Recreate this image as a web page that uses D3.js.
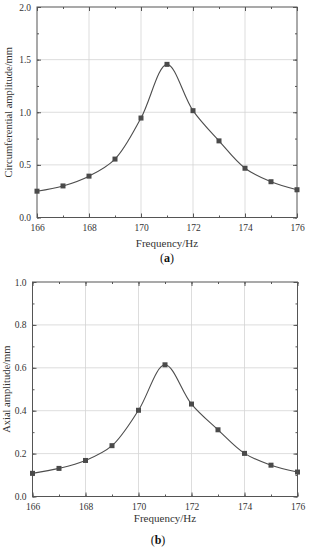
<!DOCTYPE html>
<html><head><meta charset="utf-8">
<script src="https://cdn.jsdelivr.net/npm/d3@7"></script>
<style>html,body{margin:0;padding:0;background:#fff;}svg{display:block;}</style>
</head><body>
<script>
const freq = [166,167,168,169,170,171,172,173,174,175,176];
const circAmp = [0.25,0.30,0.393,0.555,0.945,1.455,1.015,0.728,0.468,0.34,0.264];
const axialAmp = [0.108,0.131,0.168,0.237,0.402,0.614,0.431,0.311,0.201,0.146,0.114];
const xTicks = [166,168,170,172,174,176];
const yTicksA = [0.0,0.5,1.0,1.5,2.0];
const yTicksB = [0.0,0.2,0.4,0.6,0.8,1.0];

const svg = d3.select("body").append("svg").attr("width",309).attr("height",550);
const font = "'Liberation Serif','Times New Roman',serif";

function panel(o){
  const x = d3.scaleLinear().domain([166,176]).range([o.left,o.right]);
  const y = d3.scaleLinear().domain(o.ydom).range([o.bottom,o.top]);
  const g = svg.append("g");
  // grid
  g.selectAll(".gx").data(xTicks.slice(1,-1)).enter().append("line")
    .attr("x1",d=>x(d)).attr("x2",d=>x(d)).attr("y1",o.top).attr("y2",o.bottom)
    .attr("stroke","#d4d4d4").attr("stroke-width",0.8);
  g.selectAll(".gy").data(o.yticks.slice(1,-1)).enter().append("line")
    .attr("y1",d=>y(d)).attr("y2",d=>y(d)).attr("x1",o.left).attr("x2",o.right)
    .attr("stroke","#d4d4d4").attr("stroke-width",0.8);
  // axes (inward ticks)
  const minorX = d3.range(166,177,1);
  const minorY = o.minor;
  const ax = (sel, axis) => { sel.call(axis); sel.select(".domain").remove(); sel.selectAll("line").attr("stroke","#555"); sel.selectAll("text").attr("font-family",font).attr("font-size",9.5).attr("fill","#333"); };
  g.append("g").attr("transform",`translate(0,${o.bottom})`).call(s=>ax(s,d3.axisBottom(x).tickValues(minorX).tickSize(-2).tickFormat("")));
  g.append("g").attr("transform",`translate(0,${o.bottom})`).call(s=>ax(s,d3.axisBottom(x).tickValues(xTicks).tickSize(-4).tickPadding(7).tickFormat(d3.format("d"))));
  g.append("g").attr("transform",`translate(0,${o.top})`).call(s=>ax(s,d3.axisTop(x).tickValues(minorX).tickSize(-2).tickFormat("")));
  g.append("g").attr("transform",`translate(0,${o.top})`).call(s=>ax(s,d3.axisTop(x).tickValues(xTicks).tickSize(-4).tickFormat("")));
  g.append("g").attr("transform",`translate(${o.left},0)`).call(s=>ax(s,d3.axisLeft(y).tickValues(minorY).tickSize(-2).tickFormat("")));
  g.append("g").attr("transform",`translate(${o.left},0)`).call(s=>ax(s,d3.axisLeft(y).tickValues(o.yticks).tickSize(-4).tickPadding(6).tickFormat(d3.format(".1f"))));
  g.append("g").attr("transform",`translate(${o.right},0)`).call(s=>ax(s,d3.axisRight(y).tickValues(minorY).tickSize(-2).tickFormat("")));
  g.append("g").attr("transform",`translate(${o.right},0)`).call(s=>ax(s,d3.axisRight(y).tickValues(o.yticks).tickSize(-4).tickFormat("")));
  // frame
  g.append("rect").attr("x",o.left).attr("y",o.top).attr("width",o.right-o.left).attr("height",o.bottom-o.top)
    .attr("fill","none").attr("stroke","#555").attr("stroke-width",1);
  // line
  const line = d3.line().x((d,i)=>x(freq[i])).y(d=>y(d)).curve(d3.curveCatmullRom.alpha(0.5));
  g.append("path").datum(o.data).attr("d",line).attr("fill","none").attr("stroke","#4d4d4d").attr("stroke-width",1.1);
  g.selectAll(".m").data(o.data).enter().append("rect")
    .attr("x",(d,i)=>x(freq[i])-2.5).attr("y",d=>y(d)-2.5).attr("width",5).attr("height",5)
    .attr("fill","#4a4a4a");
  // titles
  g.append("text").attr("x",(o.left+o.right)/2).attr("y",o.xtY).attr("text-anchor","middle")
    .attr("font-family",font).attr("font-size",11).attr("fill","#333").text("Frequency/Hz");
  g.append("text").attr("transform",`translate(${o.ytX},${(o.top+o.bottom)/2}) rotate(-90)`).attr("text-anchor","middle")
    .attr("dominant-baseline","middle")
    .attr("font-family",font).attr("font-size",10.5).attr("fill","#333").text(o.ytitle);
  const cap = g.append("text").attr("x",o.capX).attr("y",o.capY).attr("text-anchor","middle")
    .attr("font-family",font).attr("font-size",12).attr("fill","#111");
  cap.append("tspan").text("(");
  cap.append("tspan").attr("font-weight","bold").text(o.cap);
  cap.append("tspan").text(")");
}

panel({left:37,right:297,top:7,bottom:217.5,ydom:[0,2],yticks:yTicksA,minor:d3.range(0,2.01,0.25),
  data:circAmp,ytitle:"Circumferential amplitude/mm",xtY:247,ytX:10,capX:167,capY:262,cap:"a"});
panel({left:32.5,right:297.5,top:282,bottom:496.5,ydom:[0,1],yticks:yTicksB,minor:d3.range(0,1.001,0.1),
  data:axialAmp,ytitle:"Axial amplitude/mm",xtY:522,ytX:8,capX:158,capY:544,cap:"b"});
</script>
</body></html>
